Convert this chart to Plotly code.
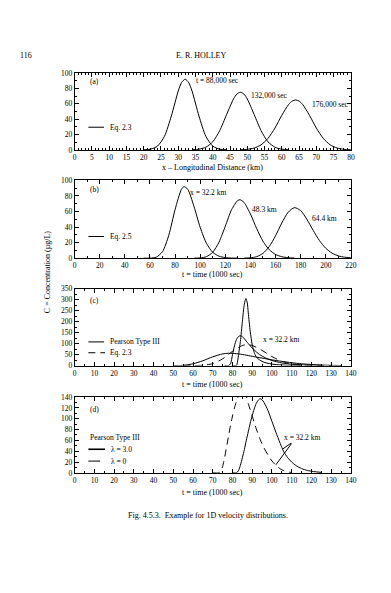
import plotly.graph_objects as go

# ---------------- data ----------------
# (a) concentration vs distance at three times
a_x1 = [20, 22, 24, 26, 28, 30, 31, 32, 33, 34, 36, 38, 40, 42, 44]
a_c1 = [0.1, 0.9, 4.9, 17.6, 44.1, 76.6, 87.9, 92, 87.9, 76.6, 44.1, 17.6, 4.9, 0.9, 0.1]
a_x2 = [34, 36, 38, 40, 42, 44, 46, 47, 48, 49, 50, 52, 54, 56, 58, 60, 62]
a_c2 = [0.2, 0.9, 3.5, 10.5, 24.9, 45.9, 66.3, 72.7, 75, 72.7, 66.3, 45.9, 24.9, 10.5, 3.5, 0.9, 0.2]
a_x3 = [48, 50, 52, 54, 56, 58, 60, 62, 63, 64, 65, 66, 68, 70, 72, 74, 76, 78, 80]
a_c3 = [0.2, 0.7, 2.4, 6.6, 15.0, 28.4, 45.0, 59.3, 63.5, 65, 63.5, 59.3, 45.0, 28.4, 15.0, 6.6, 2.4, 0.7, 0.2]

# (b) concentration vs time at three stations
b_t1 = [55, 60, 65, 70, 75, 80, 85, 87, 90, 95, 100, 105, 110, 115, 120, 125, 130]
b_c1 = [0, 0.1, 1.3, 8.5, 29.6, 62.7, 88.4, 92, 88.8, 66.8, 39.5, 19.0, 7.5, 2.6, 0.8, 0.2, 0.05]
b_t2 = [95, 100, 105, 110, 115, 120, 125, 130, 132, 135, 140, 145, 150, 155, 160, 165, 170, 175]
b_c2 = [0.04, 0.34, 2.0, 7.7, 20.7, 41.2, 62.5, 74.4, 75, 71.5, 56.8, 38.0, 21.8, 10.9, 4.8, 1.9, 0.66, 0.2]
b_t3 = [135, 140, 145, 150, 155, 160, 165, 170, 175, 180, 185, 190, 195, 200, 205, 210, 215, 220]
b_c3 = [0.09, 0.49, 2.0, 6.2, 15.0, 28.8, 45.3, 59.0, 65, 61.2, 49.9, 35.7, 22.6, 12.8, 6.5, 3.0, 1.3, 0.5]

# (c) Pearson Type III curves and Eq. 2.3 at x = 32.2 km
c_t_tall = [80, 82, 82.5, 83, 84, 85, 86, 86.8, 87.5, 88, 89, 90, 91, 92, 94, 96, 98, 100, 105, 110, 115]
c_c_tall = [0, 0, 15, 45, 110, 200, 280, 305, 285, 240, 155, 95, 60, 40, 24, 15, 10, 6.5, 2.5, 1, 0.3]
c_t_med = [76, 78, 79, 80, 81, 82, 83, 84, 85, 86, 88, 90, 93, 96, 100, 105, 110, 115, 120, 125]
c_c_med = [0, 0, 8, 50, 90, 118, 132, 136, 132, 122, 100, 80, 55, 38, 23, 12, 6, 3, 1.5, 0.6]
c_t_broad = [50, 53, 56, 60, 65, 70, 75, 78, 82, 86, 90, 95, 100, 105, 110, 115, 120, 125, 130, 135]
c_c_broad = [0, 0, 2, 8, 22, 40, 53, 56, 54, 49, 42, 34, 26, 19, 13, 8, 5, 2.5, 1, 0.3]
c_t_eq = [55, 60, 65, 70, 75, 80, 85, 87, 90, 95, 100, 105, 110, 115, 120, 125, 130]
c_c_eq = [0, 0.1, 1.3, 8.8, 30.5, 64.7, 91.2, 95, 91.6, 68.9, 40.8, 19.6, 7.7, 2.7, 0.8, 0.2, 0.05]

# (d) Pearson Type III, lambda = 3.0 and lambda = 0
d_t_l3 = [80, 82, 83, 84, 85, 86, 87, 88, 89, 90, 91, 92, 93, 94, 95, 96, 98, 100, 102, 104, 105, 106,
          108, 110, 112, 115, 118, 121, 125]
d_c_l3 = [0, 0, 4, 14, 28, 43, 60, 76, 92, 106, 118, 128, 134, 137, 135, 130, 115, 95, 75, 56, 47, 39,
          28, 20, 14, 8, 4.5, 2.5, 1]
d_t_l0 = [70, 73, 74, 75, 76, 77, 78, 79, 80, 81, 82, 83, 84, 85, 86, 87, 88, 90, 92, 94, 96, 98, 100,
          102, 104, 106, 108, 110]
d_c_l0 = [0, 0, 3, 12, 28, 48, 68, 88, 105, 120, 132, 142, 150, 153, 150, 142, 128, 105, 82, 62, 46, 33,
          22, 14, 8, 4, 2, 0.5]

# ---------------- layout helpers ----------------
W, H = 391, 593
FONT = "Liberation Serif"
X0, X1 = 66, 348


def px(x):
    return x / W


def py(y):
    return 1 - y / H


def axis_style(rng, dtick, minor_dtick, **kw):
    d = dict(range=rng, dtick=dtick, tick0=0, showline=True, linecolor="black", linewidth=1,
             mirror="allticks", ticks="inside", ticklen=4, tickwidth=1, tickcolor="black",
             showgrid=False, zeroline=False,
             tickfont=dict(family=FONT, size=7.5, color="black"),
             minor=dict(ticks="inside", ticklen=2, tickwidth=1, tickcolor="black", dtick=minor_dtick,
                        showgrid=False))
    d.update(kw)
    return d


fig = go.Figure()
LINE = dict(color="black", width=1, shape="spline", smoothing=0.7)
DASH = dict(color="black", width=1, shape="spline", smoothing=0.7, dash="7px,5px")


def add(x, y, ax, line):
    fig.add_trace(go.Scatter(x=x, y=y, mode="lines", line=line, xaxis=ax[0], yaxis=ax[1],
                             hoverinfo="skip", showlegend=False))


add(a_x1, a_c1, ("x", "y"), LINE)
add(a_x2, a_c2, ("x", "y"), LINE)
add(a_x3, a_c3, ("x", "y"), LINE)
add(b_t1, b_c1, ("x2", "y2"), LINE)
add(b_t2, b_c2, ("x2", "y2"), LINE)
add(b_t3, b_c3, ("x2", "y2"), LINE)
add(c_t_broad, c_c_broad, ("x3", "y3"), LINE)
add(c_t_med, c_c_med, ("x3", "y3"), LINE)
add(c_t_tall, c_c_tall, ("x3", "y3"), LINE)
add(c_t_eq, c_c_eq, ("x3", "y3"), DASH)
add(d_t_l3, d_c_l3, ("x4", "y4"), LINE)
add(d_t_l0, d_c_l0, ("x4", "y4"), DASH)

xdom = [px(X0), px(X1)]

fig.update_layout(
    width=W, height=H, autosize=False,
    margin=dict(l=0, r=0, t=0, b=0),
    paper_bgcolor="white", plot_bgcolor="white",
    showlegend=False,
    font=dict(family=FONT, size=8, color="black"),
    xaxis=axis_style([0, 80], 5, 1, domain=xdom, anchor="y"),
    yaxis=axis_style([0, 100], 20, 10, domain=[py(140), py(62)], anchor="x"),
    xaxis2=axis_style([0, 220], 20, 10, domain=xdom, anchor="y2"),
    yaxis2=axis_style([0, 100], 20, 10, domain=[py(250), py(171)], anchor="x2"),
    xaxis3=axis_style([0, 140], 10, 5, domain=xdom, anchor="y3"),
    yaxis3=axis_style([0, 350], 50, 25, domain=[py(359), py(281)], anchor="x3"),
    xaxis4=axis_style([0, 140], 10, 5, domain=xdom, anchor="y4"),
    yaxis4=axis_style([0, 140], 20, 10, domain=[py(468), py(391)], anchor="x4"),
)

ann = []


def text(s, x, y, xa="left", size=7.5, ref=("paper", "paper"), angle=0):
    ann.append(dict(text=s, x=x, y=y, xref=ref[0], yref=ref[1], xanchor=xa, yanchor="middle",
                    showarrow=False, textangle=angle,
                    font=dict(family=FONT, size=size, color="black")))


# page header and caption
text("116", px(8), py(44), size=8)
text("E. R. HOLLEY", px(195), py(44), xa="center", size=8)
text("Fig. 4.5.3.  Example for 1D velocity distributions.", px(202), py(511), xa="center", size=8)

# axis titles
text("x – Longitudinal Distance (km)", px(207), py(158), xa="center", size=8)
text("t = time (1000 sec)", px(207), py(267), xa="center", size=8)
text("t = time (1000 sec)", px(207), py(378), xa="center", size=8)
text("t = time (1000 sec)", px(207), py(488), xa="center", size=8)
text("C = Concentration (µg/L)", px(39), py(264), xa="center", angle=-90, size=8)

# panel letters
text("(a)", px(80), py(71))
text("(b)", px(80), py(180))
text("(c)", px(80), py(293))
text("(d)", px(80), py(404))

# curve labels (data coordinates)
text("t = 88,000 sec", 34.6, 89.7, ref=("x", "y"))
text("132,000 sec", 50.5, 70.5, ref=("x", "y"))
text("176,000 sec", 68.1, 59, ref=("x", "y"))
text("x = 32.2 km", 90.5, 84.8, ref=("x2", "y2"))
text("48.3 km", 139.6, 63, ref=("x2", "y2"))
text("64.4 km", 187.8, 50.6, ref=("x2", "y2"))
text("x = 32.2 km", 94.7, 118, ref=("x3", "y3"))
text("x = 32.2 km", 105, 65, ref=("x4", "y4"))

# pointer lines in (d)
for (ex, ey) in [(105.4, 44), (102, 15)]:
    ann.append(dict(x=ex, y=ey, ax=110.5, ay=57, xref="x4", yref="y4", axref="x4", ayref="y4",
                    text="", showarrow=True, arrowhead=0, arrowwidth=1, arrowcolor="black",
                    standoff=0, startstandoff=0))

# legend texts
text("Eq. 2.3", px(100), py(117))
text("Eq. 2.5", px(100), py(228))
text("Pearson Type III", px(100), py(335))
text("Eq. 2.3", px(100), py(346))
text("Pearson Type III", px(80), py(432))
text("λ = 3.0", px(101), py(444))
text("λ = 0", px(101), py(456))

shapes = []


def seg(x0, x1, y, width=1, dash=None):
    ln = dict(color="black", width=width)
    if dash:
        ln["dash"] = dash
    shapes.append(dict(type="line", xref="paper", yref="paper", x0=px(x0), x1=px(x1),
                       y0=py(y), y1=py(y), line=ln))


seg(80, 96, 117)
seg(80, 96, 228)
seg(80, 96, 335)
seg(80, 97, 346, dash="7px,5px")
seg(80, 97, 444, width=1.6)
seg(80, 92, 456)

fig.update_layout(annotations=ann, shapes=shapes)
fig.write_html("out.html")
